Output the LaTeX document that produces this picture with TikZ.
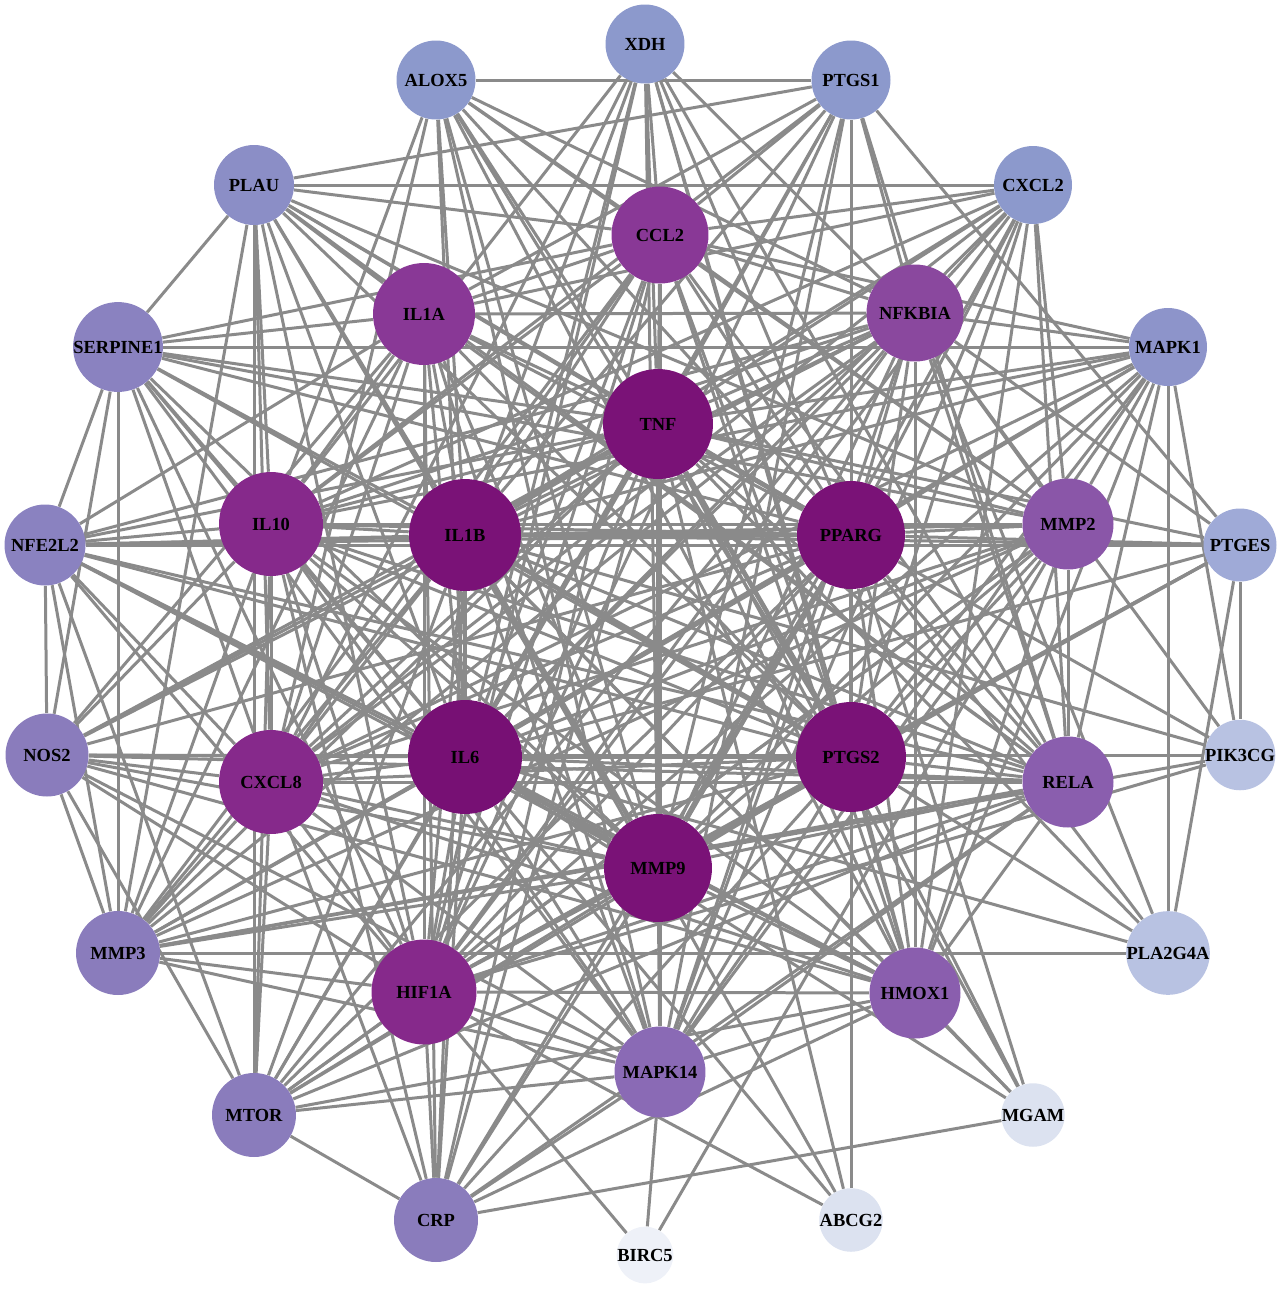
\documentclass[tikz,border=0pt]{standalone}
\usepackage{fontspec}
\setmainfont{Liberation Serif}
\usetikzlibrary{backgrounds}
\definecolor{cA}{HTML}{7A1277}
\definecolor{cB}{HTML}{771074}
\definecolor{iA}{HTML}{86298B}
\definecolor{iB}{HTML}{893896}
\definecolor{iC}{HTML}{8A489E}
\definecolor{iD}{HTML}{8A56A8}
\definecolor{iE}{HTML}{8A5EAE}
\definecolor{iF}{HTML}{8A6AB5}
\definecolor{oA}{HTML}{8A7CBC}
\definecolor{oB}{HTML}{8A82C0}
\definecolor{oC}{HTML}{8B8EC6}
\definecolor{oD}{HTML}{8C99CC}
\definecolor{oE}{HTML}{8D94CA}
\definecolor{lA}{HTML}{9FAAD7}
\definecolor{lB}{HTML}{B8C2E2}
\definecolor{lC}{HTML}{DCE2F0}
\definecolor{lD}{HTML}{EEF1F8}
\definecolor{edgec}{HTML}{8A8A8A}
\tikzset{
  gene/.style={circle, inner sep=0pt, font=\bfseries\fontsize{10.5}{12}\selectfont, text=black},
  edge/.style={draw=edgec, line width=0.06cm},
  thickedge/.style={draw=edgec, line width=0.095cm},
}
\begin{document}
\begin{tikzpicture}[x=0.02cm,y=-0.02cm]
\useasboundingbox (0,0) rectangle (1282,1292);
% center
\node[gene, fill=cA, minimum size=2.2cm] (TNF) at (658,424) {TNF};
\node[gene, fill=cA, minimum size=2.24cm] (IL1B) at (465,535) {IL1B};
\node[gene, fill=cA, minimum size=2.16cm] (PPARG) at (851,535) {PPARG};
\node[gene, fill=cA, minimum size=2.2cm] (PTGS2) at (851,757) {PTGS2};
\node[gene, fill=cB, minimum size=2.28cm] (IL6) at (465,757) {IL6};
\node[gene, fill=cA, minimum size=2.16cm] (MMP9) at (658,868) {MMP9};
% inner ring
\node[gene, fill=iB, minimum size=1.94cm] (CCL2) at (660,235) {CCL2};
\node[gene, fill=iC, minimum size=1.94cm] (NFKBIA) at (915,313) {NFKBIA};
\node[gene, fill=iD, minimum size=1.82cm] (MMP2) at (1068,524) {MMP2};
\node[gene, fill=iE, minimum size=1.82cm] (RELA) at (1068,782) {RELA};
\node[gene, fill=iE, minimum size=1.82cm] (HMOX1) at (915,993) {HMOX1};
\node[gene, fill=iF, minimum size=1.82cm] (MAPK14) at (660,1072) {MAPK14};
\node[gene, fill=iA, minimum size=2.1cm] (HIF1A) at (424,992) {HIF1A};
\node[gene, fill=iA, minimum size=2.08cm] (CXCL8) at (271,782) {CXCL8};
\node[gene, fill=iA, minimum size=2.08cm] (IL10) at (271,524) {IL10};
\node[gene, fill=iB, minimum size=2.04cm] (IL1A) at (424,314) {IL1A};
% outer ring
\node[gene, fill=oD, minimum size=1.58cm] (XDH) at (645,44) {XDH};
\node[gene, fill=oD, minimum size=1.58cm] (PTGS1) at (851,80) {PTGS1};
\node[gene, fill=oD, minimum size=1.56cm] (CXCL2) at (1033,185) {CXCL2};
\node[gene, fill=oE, minimum size=1.56cm] (MAPK1) at (1168,347) {MAPK1};
\node[gene, fill=lA, minimum size=1.46cm] (PTGES) at (1240,545) {PTGES};
\node[gene, fill=lB, minimum size=1.26cm] (PIK3CG) at (1240,755) {PIK3CG};
\node[gene, fill=lB, minimum size=1.22cm] (PLA2G4A) at (1168,953) {PLA2G4A};
\node[gene, fill=lC, minimum size=1.1cm] (MGAM) at (1033,1115) {MGAM};
\node[gene, fill=lC, minimum size=1.1cm] (ABCG2) at (851,1220) {ABCG2};
\node[gene, fill=lD, minimum size=0.9cm] (BIRC5) at (645,1255) {BIRC5};
\node[gene, fill=oA, minimum size=1.68cm] (CRP) at (436,1220) {CRP};
\node[gene, fill=oA, minimum size=1.68cm] (MTOR) at (254,1115) {MTOR};
\node[gene, fill=oA, minimum size=1.68cm] (MMP3) at (118,953) {MMP3};
\node[gene, fill=oA, minimum size=1.66cm] (NOS2) at (47,755) {NOS2};
\node[gene, fill=oB, minimum size=1.62cm] (NFE2L2) at (45,545) {NFE2L2};
\node[gene, fill=oB, minimum size=1.64cm] (SERPINE1) at (118,347) {SERPINE1};
\node[gene, fill=oC, minimum size=1.6cm] (PLAU) at (254,185) {PLAU};
\node[gene, fill=oD, minimum size=1.58cm] (ALOX5) at (436,80) {ALOX5};

\begin{pgfonlayer}{background}
% center-center
\foreach \a/\b in {TNF/IL1B,TNF/PPARG,TNF/PTGS2,TNF/IL6,TNF/MMP9,IL1B/PPARG,IL1B/PTGS2,IL1B/IL6,IL1B/MMP9,PPARG/PTGS2,PPARG/IL6,PPARG/MMP9,PTGS2/IL6,PTGS2/MMP9,IL6/MMP9}
  \draw[thickedge] (\a) -- (\b);
% center-inner
\foreach \c in {TNF,IL1B,PPARG,PTGS2,IL6,MMP9}
  \foreach \i in {CCL2,NFKBIA,MMP2,RELA,HMOX1,MAPK14,HIF1A,CXCL8,IL10,IL1A}
    \draw[edge] (\c) -- (\i);
% inner-inner
\foreach \a/\b in {CCL2/NFKBIA,CCL2/IL1A,CCL2/IL10,CCL2/CXCL8,CCL2/HIF1A,CCL2/MAPK14,CCL2/RELA,CCL2/MMP2,CCL2/HMOX1,
  NFKBIA/MMP2,NFKBIA/RELA,NFKBIA/HMOX1,NFKBIA/MAPK14,NFKBIA/IL1A,NFKBIA/IL10,NFKBIA/CXCL8,NFKBIA/HIF1A,
  MMP2/RELA,MMP2/HMOX1,MMP2/HIF1A,MMP2/IL10,MMP2/CXCL8,MMP2/MAPK14,
  RELA/HMOX1,RELA/MAPK14,RELA/HIF1A,RELA/CXCL8,RELA/IL10,RELA/IL1A,
  HMOX1/MAPK14,HMOX1/HIF1A,HMOX1/IL10,HMOX1/CXCL8,
  MAPK14/HIF1A,MAPK14/CXCL8,MAPK14/IL10,MAPK14/IL1A,
  HIF1A/CXCL8,HIF1A/IL10,HIF1A/IL1A,CXCL8/IL10,CXCL8/IL1A,IL10/IL1A}
  \draw[edge] (\a) -- (\b);
% outer lavender nodes to all centre nodes
\foreach \o in {XDH,PTGS1,CXCL2,MAPK1,CRP,MTOR,MMP3,NOS2,NFE2L2,SERPINE1,PLAU,ALOX5}
  \foreach \c in {TNF,IL1B,PPARG,PTGS2,IL6,MMP9}
    \draw[edge] (\o) -- (\c);
% outer to inner and outer to outer
\foreach \a/\b in {
  XDH/CCL2,XDH/NFKBIA,XDH/IL10,XDH/HIF1A,XDH/HMOX1,XDH/RELA,XDH/CXCL8,
  ALOX5/CCL2,ALOX5/NFKBIA,ALOX5/IL10,ALOX5/CXCL8,ALOX5/HMOX1,ALOX5/MAPK14,ALOX5/PTGS1,ALOX5/MMP2,
  PTGS1/CCL2,PTGS1/IL1A,PTGS1/IL10,PTGS1/NFKBIA,PTGS1/RELA,PTGS1/MAPK14,PTGS1/HIF1A,PTGS1/PLAU,PTGS1/PTGES,
  CXCL2/CCL2,CXCL2/IL1A,CXCL2/IL10,CXCL2/CXCL8,CXCL2/NFKBIA,CXCL2/RELA,CXCL2/MAPK14,CXCL2/HIF1A,CXCL2/HMOX1,CXCL2/PLAU,CXCL2/MMP2,
  MAPK1/NFKBIA,MAPK1/RELA,MAPK1/MMP2,MAPK1/HMOX1,MAPK1/MAPK14,MAPK1/HIF1A,MAPK1/CXCL8,MAPK1/IL10,MAPK1/SERPINE1,MAPK1/PLA2G4A,MAPK1/PIK3CG,MAPK1/CCL2,
  PLAU/MMP2,PLAU/HIF1A,PLAU/IL10,PLAU/CXCL8,PLAU/CCL2,PLAU/IL1A,PLAU/RELA,PLAU/SERPINE1,PLAU/MTOR,PLAU/MMP3,
  SERPINE1/IL10,SERPINE1/CXCL8,SERPINE1/HIF1A,SERPINE1/IL1A,SERPINE1/MMP2,SERPINE1/CCL2,SERPINE1/MAPK14,SERPINE1/NOS2,SERPINE1/MMP3,SERPINE1/NFE2L2,
  NFE2L2/IL10,NFE2L2/CXCL8,NFE2L2/HIF1A,NFE2L2/MMP2,NFE2L2/HMOX1,NFE2L2/RELA,NFE2L2/NOS2,NFE2L2/MMP3,NFE2L2/MTOR,NFE2L2/PTGES,NFE2L2/NFKBIA,NFE2L2/IL1A,
  NOS2/IL10,NOS2/CXCL8,NOS2/HIF1A,NOS2/NFKBIA,NOS2/RELA,NOS2/HMOX1,NOS2/IL1A,NOS2/MAPK14,NOS2/MTOR,NOS2/MMP3,NOS2/PIK3CG,
  MMP3/CXCL8,MMP3/IL10,MMP3/HIF1A,MMP3/MMP2,MMP3/IL1A,MMP3/MAPK14,MMP3/NFKBIA,MMP3/RELA,MMP3/CCL2,MMP3/PLA2G4A,
  MTOR/HIF1A,MTOR/CXCL8,MTOR/IL10,MTOR/MAPK14,MTOR/HMOX1,MTOR/RELA,MTOR/NFKBIA,MTOR/MMP2,
  CRP/HIF1A,CRP/CXCL8,CRP/IL10,CRP/IL1A,CRP/CCL2,CRP/MAPK14,CRP/HMOX1,CRP/RELA,CRP/MGAM,CRP/MTOR,
  PTGES/PPARG,PTGES/IL1B,PTGES/TNF,PTGES/PTGS2,PTGES/IL6,PTGES/MMP9,PTGES/NFKBIA,PTGES/HIF1A,PTGES/PLA2G4A,PTGES/PIK3CG,
  PIK3CG/IL1B,PIK3CG/PPARG,PIK3CG/NFKBIA,PIK3CG/HIF1A,PIK3CG/MMP3,
  PLA2G4A/TNF,PLA2G4A/PPARG,PLA2G4A/NFKBIA,PLA2G4A/IL6,PLA2G4A/PTGS2,
  MGAM/IL1B,MGAM/IL6,MGAM/TNF,MGAM/PTGS2,MGAM/PPARG,MGAM/HMOX1,
  ABCG2/HIF1A,ABCG2/IL6,ABCG2/IL1B,ABCG2/TNF,ABCG2/PPARG,ABCG2/PTGS2,
  BIRC5/MAPK14,BIRC5/HIF1A,BIRC5/MMP2}
  \draw[edge] (\a) -- (\b);
\end{pgfonlayer}
\end{tikzpicture}
\end{document}
